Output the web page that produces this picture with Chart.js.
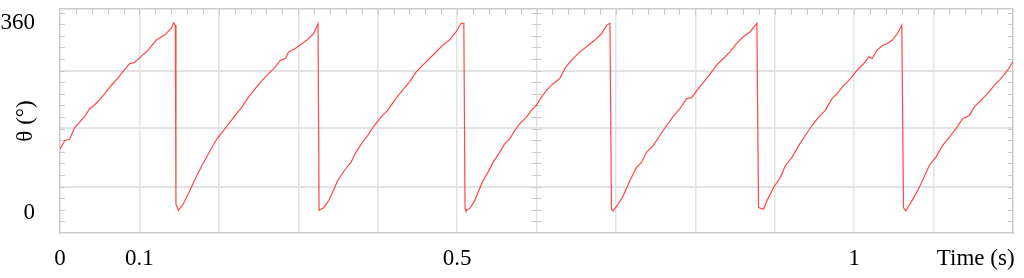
<!DOCTYPE html>
<html>
<head>
<meta charset="utf-8">
<script src="https://cdn.jsdelivr.net/npm/chart.js@4/dist/chart.umd.min.js"></script>
<style>
  html, body { margin: 0; padding: 0; background: #fff; }
  #wrap { width: 1024px; height: 278px; position: relative; }
</style>
</head>
<body>
<div id="wrap"><canvas id="chart"></canvas></div>
<script>
// Время (с) и угол (град)
const timeValues = [
  0, 0.0059, 0.0122, 0.0185, 0.0248, 0.0311, 0.0374, 0.0437, 0.050, 0.0563,
  0.0647, 0.0731, 0.0815, 0.0878, 0.0941, 0.1004, 0.1108, 0.1213, 0.1318, 0.1402,
  0.1432, 0.1452, 0.1460, 0.1492, 0.155, 0.1634, 0.1701, 0.1786, 0.189, 0.1975,
  0.2059, 0.2122, 0.2206, 0.229, 0.2374, 0.2459, 0.2543, 0.2627, 0.2711, 0.2774,
  0.2837, 0.2879, 0.2963, 0.3047, 0.311, 0.3194, 0.3249, 0.3262, 0.332, 0.3383,
  0.3432, 0.3495, 0.3579, 0.3663, 0.3726, 0.381, 0.3873, 0.3957, 0.4041, 0.4125,
  0.421, 0.4294, 0.4399, 0.4483, 0.4568, 0.4652, 0.4736, 0.482, 0.4904, 0.4988,
  0.5051, 0.5085, 0.5100, 0.5112, 0.5162, 0.5221, 0.5263, 0.5326, 0.5389, 0.5452,
  0.5536, 0.5599, 0.5662, 0.5725, 0.5788, 0.5873, 0.5936, 0.5999, 0.6062, 0.6125,
  0.621, 0.6294, 0.6357, 0.642, 0.6483, 0.6546, 0.663, 0.6735, 0.682, 0.6883,
  0.6925, 0.6944, 0.6965, 0.7028, 0.7091, 0.7175, 0.7259, 0.7322, 0.7385, 0.747,
  0.7554, 0.7638, 0.7722, 0.7806, 0.789, 0.7953, 0.8038, 0.8122, 0.8206, 0.8269,
  0.8353, 0.8437, 0.8521, 0.8605, 0.8692, 0.8775, 0.8796, 0.8859, 0.8901, 0.8985,
  0.907, 0.9133, 0.9217, 0.9301, 0.9385, 0.9469, 0.9553, 0.9637, 0.9721, 0.9785,
  0.9869, 0.9953, 1.0037, 1.0121, 1.0184, 1.0226, 1.0289, 1.0365, 1.0419, 1.0482,
  1.0545, 1.06, 1.0621, 1.065, 1.0713, 1.0776, 1.086, 1.0944, 1.1028, 1.1112,
  1.1196, 1.128, 1.1365, 1.1449, 1.1512, 1.1596, 1.168, 1.1764, 1.1848, 1.1933,
  1.1996
];
const angleValues = [
  121.3, 137, 140, 162, 172, 183, 197.5, 205, 214.6, 226,
  242, 256, 272, 283, 285, 294, 308.6, 327.6, 337, 350,
  360.6, 356, 16.6, 5, 16.6, 42, 64, 89.5, 118, 140,
  156, 169, 185, 200.6, 219.6, 235.6, 251.4, 264, 276.8, 289.5,
  292.7, 305, 311.8, 321, 327.6, 340, 358, 5, 10, 23,
  38.7, 61, 80, 95.8, 114.9, 134, 146.7, 165.7, 181.6, 194.3,
  213, 229, 248, 267, 280, 292.7, 305, 318, 327.6, 343.4,
  359.4, 359.4, 8, 3.8, 9, 22.9, 38.7, 61, 76.8, 95.8,
  114.9, 130.9, 140.4, 156, 169, 181.6, 194.3, 203.8, 219.6, 232.4,
  245, 254.7, 273.7, 286.3, 295.8, 305.3, 314.9, 327.6, 340, 356,
  359.4, 7, 3.8, 16.6, 32.4, 61, 86.3, 95.8, 114.9, 127.6,
  146.7, 165.7, 182.9, 197.5, 216.6, 218.5, 235.6, 251.4, 267.2, 280,
  292.7, 305.3, 321.3, 334, 343.4, 359.4, 10, 7, 22.9, 48.2,
  67.2, 89.5, 105.3, 127.6, 146.7, 165.7, 181.6, 194.3, 216.6, 226,
  241.9, 254.7, 270.5, 283.2, 295.8, 292.7, 308.6, 318, 321, 327.6,
  340, 356, 10, 3.8, 19.6, 35.6, 61, 89.5, 105.3, 127.6,
  143.4, 159.4, 178.5, 184.8, 200.6, 213.3, 226, 241.9, 254.7, 270.5,
  286.3
];

// Подписи и сетка
const xTickValues = [0, 0.1, 0.5, 1];
const xTitle = 'Time (s)';
const xTitlePos = 1.153;
const xGridValues = [0.1, 0.2, 0.3, 0.4, 0.5, 0.6, 0.7, 0.8, 0.9, 1.0, 1.1];
const xMinorStep = 0.02;
const yTickValues = [0, 360];
const yTitle = 'θ (°)';
const yGridValues = [49.8, 160.5, 269.6];
const yMinorStep = 21.98;

const X_MIN = 0, X_MAX = 1.2;
const Y_MIN = -38, Y_MAX = 386.5;

const FONT = { family: '"Liberation Serif", "DejaVu Serif", serif', size: 23 };
const GRID = '#e3e3e3';
const FRAME = '#cbcbcb';

// Chart.js резервирует место под крайние подписи — здесь оно не нужно
const noEdgePadding = (s) => {
  s.paddingTop = 0;
  s.paddingBottom = 0;
  s.paddingLeft = 0;
  s.paddingRight = 0;
};

// Мелкие засечки внутри области графика
const minorTicks = {
  id: 'minorTicks',
  beforeDatasetsDraw(chart) {
    const { ctx, chartArea: a, scales } = chart;
    const y = scales.y, x = scales.x;
    ctx.save();
    ctx.strokeStyle = FRAME;
    ctx.lineWidth = 1;
    ctx.beginPath();
    const midX = x.getPixelForValue(0.6);
    for (let v = yGridValues[0] - 4 * yMinorStep; v < Y_MAX; v += yMinorStep) {
      const py = Math.round(y.getPixelForValue(v)) + 0.5;
      if (py <= a.top + 1 || py >= a.bottom - 1) continue;
      ctx.moveTo(a.left, py); ctx.lineTo(a.left + 5, py);
      ctx.moveTo(a.right - 5, py); ctx.lineTo(a.right, py);
      ctx.moveTo(midX - 5, py); ctx.lineTo(midX + 5, py);
    }
    for (let t = xMinorStep; t < X_MAX; t += xMinorStep) {
      const px = Math.round(x.getPixelForValue(t)) + 0.5;
      ctx.moveTo(px, a.top); ctx.lineTo(px, a.top + 6);
    }
    ctx.stroke();
    ctx.restore();
  }
};

const points = timeValues.map((t, i) => ({ x: t, y: angleValues[i] }));

new Chart(document.getElementById('chart'), {
  type: 'line',
  data: {
    datasets: [{
      data: points,
      borderColor: 'rgba(255, 40, 40, 0.85)',
      borderWidth: 1.2,
      pointRadius: 0,
      tension: 0,
      fill: false
    }]
  },
  options: {
    responsive: true,
    maintainAspectRatio: false,
    animation: false,
    layout: { padding: { left: 0, right: 11, top: 9, bottom: 0 } },
    plugins: {
      legend: { display: false },
      tooltip: { enabled: false }
    },
    scales: {
      x: {
        type: 'linear',
        position: 'bottom',
        min: X_MIN,
        max: X_MAX,
        afterBuildTicks: (s) => {
          s.ticks = xTickValues.concat([xTitlePos]).map(v => ({ value: v }));
        },
        afterFit: (s) => { s.height = 45; noEdgePadding(s); },
        ticks: {
          autoSkip: false,
          maxRotation: 0,
          padding: 4,
          color: '#000',
          font: FONT,
          callback: (v) => (v === xTitlePos ? xTitle : String(v))
        },
        grid: { display: false },
        border: { display: true, color: FRAME, width: 1.5 }
      },
      xGrid: {
        type: 'linear',
        position: 'top',
        min: X_MIN,
        max: X_MAX,
        afterBuildTicks: (s) => { s.ticks = xGridValues.map(v => ({ value: v })); },
        afterFit: (s) => { s.height = 0; noEdgePadding(s); },
        ticks: { display: false },
        grid: { color: GRID, lineWidth: 1.5, drawTicks: false },
        border: { display: true, color: FRAME, width: 1.5 }
      },
      y: {
        type: 'linear',
        position: 'left',
        min: Y_MIN,
        max: Y_MAX,
        afterBuildTicks: (s) => { s.ticks = yTickValues.map(v => ({ value: v })); },
        afterFit: (s) => { s.width = 60; noEdgePadding(s); },
        ticks: { padding: 17, color: '#000', font: FONT },
        grid: { display: false },
        border: { display: true, color: FRAME, width: 1.5 },
        title: { display: true, text: yTitle, color: '#000', font: FONT, padding: { top: 12, bottom: 0 } }
      },
      yGrid: {
        type: 'linear',
        position: 'right',
        min: Y_MIN,
        max: Y_MAX,
        afterBuildTicks: (s) => { s.ticks = yGridValues.map(v => ({ value: v })); },
        afterFit: (s) => { s.width = 0; noEdgePadding(s); },
        ticks: { display: false },
        grid: { color: GRID, lineWidth: 2, drawTicks: false },
        border: { display: true, color: FRAME, width: 1.5 }
      }
    }
  },
  plugins: [minorTicks]
});
</script>
</body>
</html>
